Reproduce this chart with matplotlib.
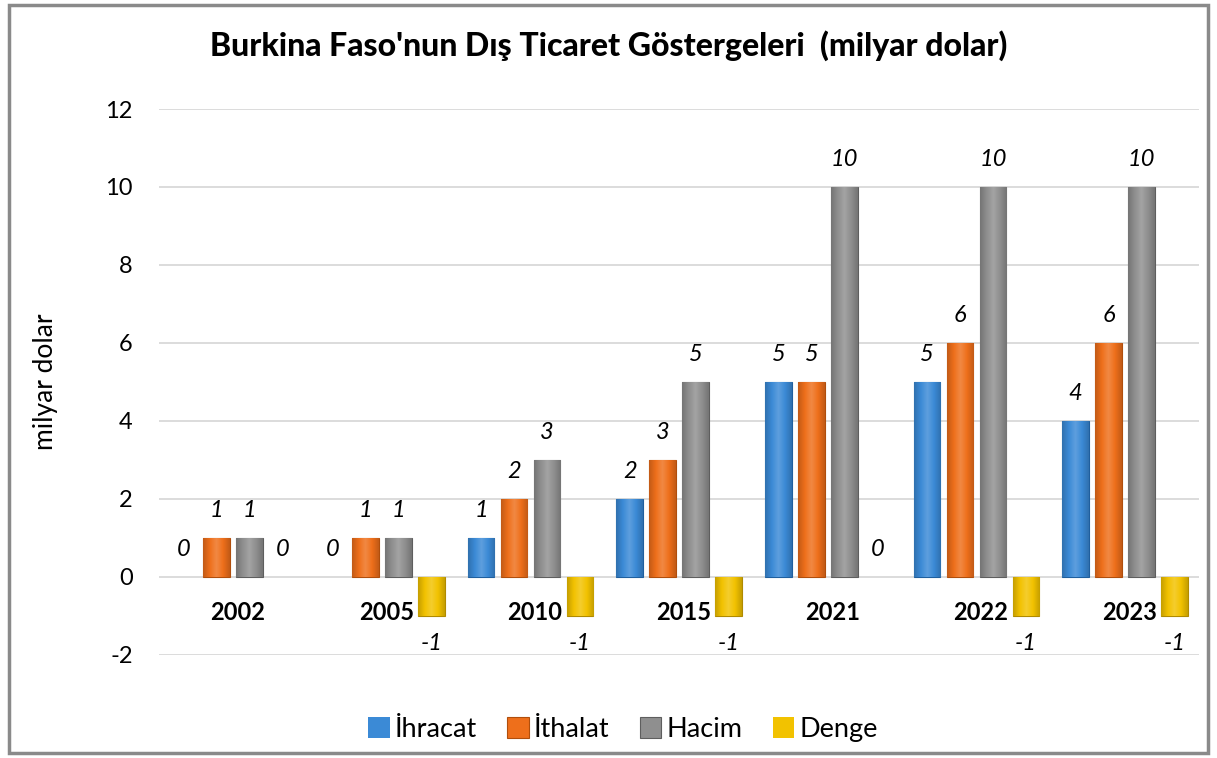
import numpy as np
import matplotlib.pyplot as plt
from matplotlib.patches import Rectangle
from matplotlib.colors import to_rgb

plt.rcParams['axes.unicode_minus'] = False

# veriler (milyar dolar)
years = ['2002', '2005', '2010', '2015', '2021', '2022', '2023']
ihracat = [0, 0, 1, 2, 5, 5, 4]
ithalat = [1, 1, 2, 3, 5, 6, 6]
hacim = [1, 1, 3, 5, 10, 10, 10]
denge = [0, -1, -1, -1, 0, -1, -1]
yticks = [-2, 0, 2, 4, 6, 8, 10, 12]

series_names = ['İhracat', 'İthalat', 'Hacim', 'Denge']
colors = ['#3b8ad6', '#ee6f1b', '#8f8f8f', '#f2c200']
edges = ['#1f5f9e', '#b04e0c', '#5e5e5e', '#b08a00']

fig = plt.figure(figsize=(12.17, 7.58), dpi=100)
ax = fig.add_axes([0.1306, 0.1359, 0.855, 0.7203])

x = np.arange(len(years))
step = 0.222
width = 0.18
all_series = [ihracat, ithalat, hacim, denge]


def shade(c, f):
    r = np.array(to_rgb(c))
    if f >= 0:
        return r + (1 - r) * f
    return r * (1 + f)


for i, vals in enumerate(all_series):
    pos = x + (i - 1.5) * step
    lw = [0.8 if v != 0 else 0 for v in vals]
    bars = ax.bar(pos, vals, width=width, color=colors[i], edgecolor=edges[i],
                  linewidth=lw, label=series_names[i], zorder=3)
    # hafif 3B görünüm için yatay gradyan
    t = np.linspace(-1, 1, 40)
    grad = np.array([shade(colors[i], 0.18 * (1 - abs(v)) - 0.18 * abs(v)) for v in t])
    grad = np.clip(grad, 0, 1)[None, :, :]
    for b, v in zip(bars, vals):
        if v == 0:
            continue
        x0, y0 = b.get_x(), b.get_y()
        im = ax.imshow(grad, extent=(x0, x0 + b.get_width(), y0, y0 + b.get_height()),
                       aspect='auto', zorder=3.5, interpolation='bilinear')
        im.set_clip_path(b)
    for px, v in zip(pos, vals):
        off = 20 if v >= 0 else -20
        ax.annotate(f'{v:.0f}', (px, v), xytext=(0, off), textcoords='offset points',
                    ha='center', va='center', fontsize=17, fontstyle='italic',
                    family='Lato', color='black')

ax.set_xlim(-0.5, len(years) - 0.5)
ax.set_ylim(-2, 12)
ax.set_yticks(yticks, labels=[str(v) for v in yticks], fontsize=17, family='Lato')
ax.yaxis.grid(True, color='#d9d9d9', linewidth=1.3, zorder=0)
ax.set_axisbelow(True)
for s in ax.spines.values():
    s.set_visible(False)
ax.tick_params(axis='y', length=0, pad=19)

# kategori etiketleri sıfır çizgisinin altında
ax.set_xticks([])
for xi, yr in zip(x, years):
    ax.text(xi + 0.03, -0.92, yr, ha='center', va='center', fontsize=17,
            fontweight='bold', family='Lato')

ax.set_ylabel('milyar dolar', fontsize=19, family='Lato', labelpad=34)

fig.text(0.5, 0.94, "Burkina Faso'nun Dış Ticaret Göstergeleri  (milyar dolar)",
         ha='center', va='center', fontsize=23, fontweight='black', family='Lato')

leg = fig.legend(loc='center', bbox_to_anchor=(0.512, 0.038), ncol=4, frameon=False,
                 prop={'family': 'Lato', 'size': 19.5}, handlelength=0.8,
                 handleheight=0.8, handletextpad=0.2, columnspacing=1.1)

fig.patches.append(Rectangle((0.007, 0.006), 0.986, 0.987, transform=fig.transFigure,
                             fill=False, edgecolor='#8a8a8a', linewidth=2.5))

fig.savefig('out.png', dpi=100)
